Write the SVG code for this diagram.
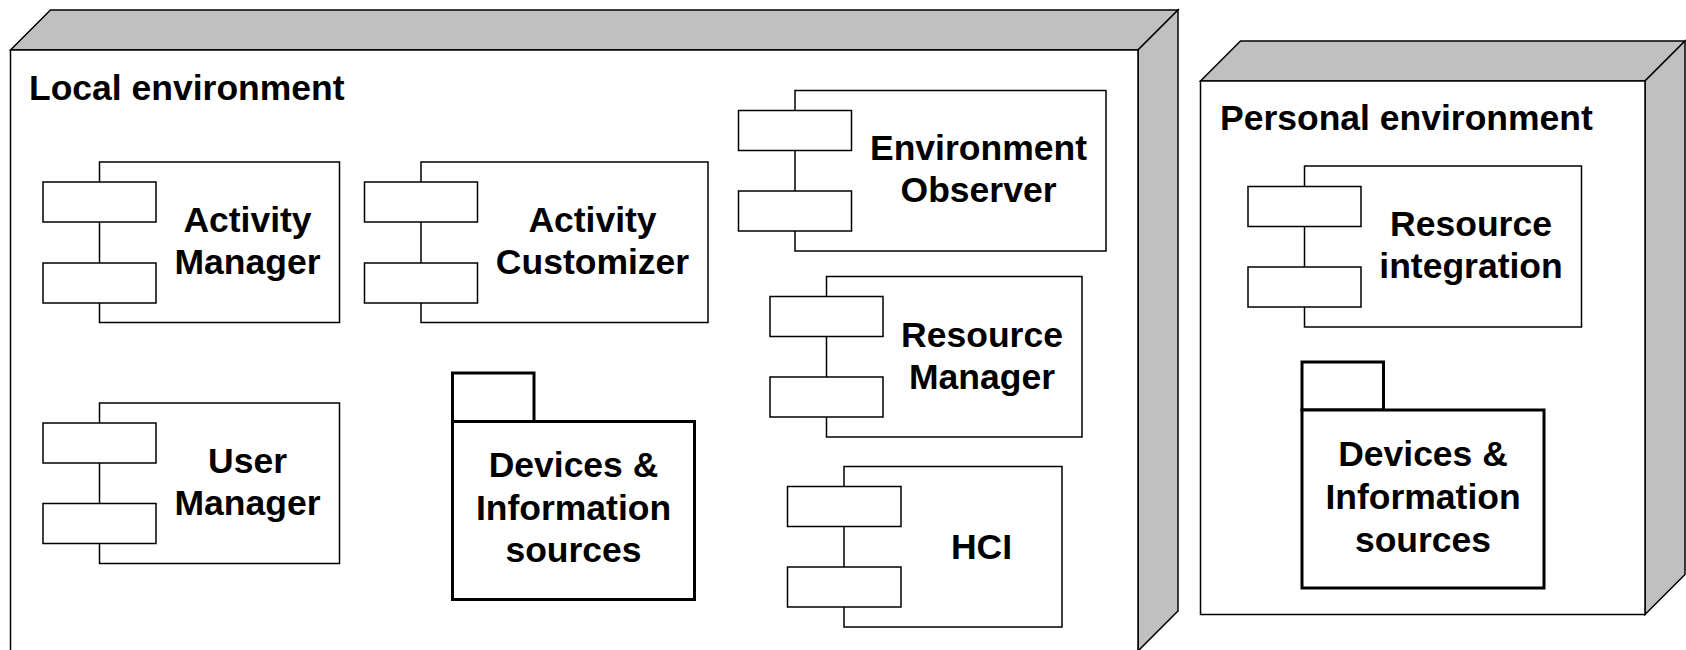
<svg xmlns="http://www.w3.org/2000/svg" width="1686" height="650" viewBox="0 0 1686 650">
<style>
.face{fill:#ffffff;stroke:#000;stroke-width:1.5}
.side{fill:#c0c0c0;stroke:#000;stroke-width:1.5;stroke-linejoin:miter}
.body{fill:#fff;stroke:#000;stroke-width:1.5}
.port{fill:#fff;stroke:#000;stroke-width:1.5}
.pkg{fill:#fff;stroke:#000;stroke-width:3}
.t{font-family:"Liberation Sans",Arial,sans-serif;font-weight:bold;font-size:35.5px;fill:#000}
.c{text-anchor:middle}
</style>
<rect width="1686" height="650" fill="#fff"/>
<g id="local-environment">
<polygon class="side" points="10.5,50 50.5,10 1178,10 1138,50"/>
<polygon class="side" points="1138,50 1178,10 1178,611 1138,651"/>
<rect class="face" x="10.5" y="50" width="1127.5" height="601"/>
<text class="t" x="29" y="100">Local environment</text>
</g>
<g id="personal-environment">
<polygon class="side" points="1200.5,81 1240.5,41 1685,41 1645,81"/>
<polygon class="side" points="1645,81 1685,41 1685,574.5 1645,614.5"/>
<rect class="face" x="1200.5" y="81" width="444.5" height="533.5"/>
<text class="t" x="1220" y="130">Personal environment</text>
</g>
<g id="activity-manager">
<rect class="body" x="99.5" y="162" width="240" height="160.5"/>
<rect class="port" x="43" y="182" width="113" height="40"/>
<rect class="port" x="43" y="263" width="113" height="40"/>
<text class="t c" x="247.5" y="232">Activity</text>
<text class="t c" x="247.5" y="274">Manager</text>
</g>
<g id="activity-customizer">
<rect class="body" x="421" y="162" width="287" height="160.5"/>
<rect class="port" x="364.5" y="182" width="113" height="40"/>
<rect class="port" x="364.5" y="263" width="113" height="40"/>
<text class="t c" x="592.5" y="232">Activity</text>
<text class="t c" x="592.5" y="274">Customizer</text>
</g>
<g id="environment-observer">
<rect class="body" x="795" y="90.5" width="311" height="160.5"/>
<rect class="port" x="738.5" y="110.5" width="113" height="40"/>
<rect class="port" x="738.5" y="191" width="113" height="40"/>
<text class="t c" x="978.5" y="159.5">Environment</text>
<text class="t c" x="978.5" y="201.5">Observer</text>
</g>
<g id="resource-manager">
<rect class="body" x="826.5" y="276.5" width="255.5" height="160.5"/>
<rect class="port" x="770" y="296.5" width="113" height="40"/>
<rect class="port" x="770" y="377" width="113" height="40"/>
<text class="t c" x="982" y="346.5">Resource</text>
<text class="t c" x="982" y="388.5">Manager</text>
</g>
<g id="hci">
<rect class="body" x="844" y="466.5" width="218" height="160.5"/>
<rect class="port" x="787.5" y="486.5" width="113.5" height="40"/>
<rect class="port" x="787.5" y="567" width="113.5" height="40"/>
<text class="t c" x="981.5" y="559">HCI</text>
</g>
<g id="user-manager">
<rect class="body" x="99.5" y="403" width="240" height="160.5"/>
<rect class="port" x="43" y="423" width="113" height="40"/>
<rect class="port" x="43" y="503.5" width="113" height="40"/>
<text class="t c" x="247.5" y="473">User</text>
<text class="t c" x="247.5" y="515">Manager</text>
</g>
<g id="devices-local">
<rect class="pkg" x="452.5" y="373" width="81.5" height="48.5"/>
<rect class="pkg" x="452.5" y="421.5" width="242" height="178"/>
<text class="t c" x="573.5" y="477">Devices &amp;</text>
<text class="t c" x="573.5" y="519.5">Information</text>
<text class="t c" x="573.5" y="562">sources</text>
</g>
<g id="resource-integration">
<rect class="body" x="1304.5" y="166" width="277" height="161"/>
<rect class="port" x="1248" y="186.5" width="113" height="40"/>
<rect class="port" x="1248" y="267" width="113" height="40"/>
<text class="t c" x="1471" y="236">Resource</text>
<text class="t c" x="1471" y="278">integration</text>
</g>
<g id="devices-personal">
<rect class="pkg" x="1302" y="362" width="81.5" height="48"/>
<rect class="pkg" x="1302" y="410" width="242" height="178"/>
<text class="t c" x="1423" y="465.5">Devices &amp;</text>
<text class="t c" x="1423" y="508.5">Information</text>
<text class="t c" x="1423" y="551.5">sources</text>
</g>
<g id="connectors"></g>
</svg>
